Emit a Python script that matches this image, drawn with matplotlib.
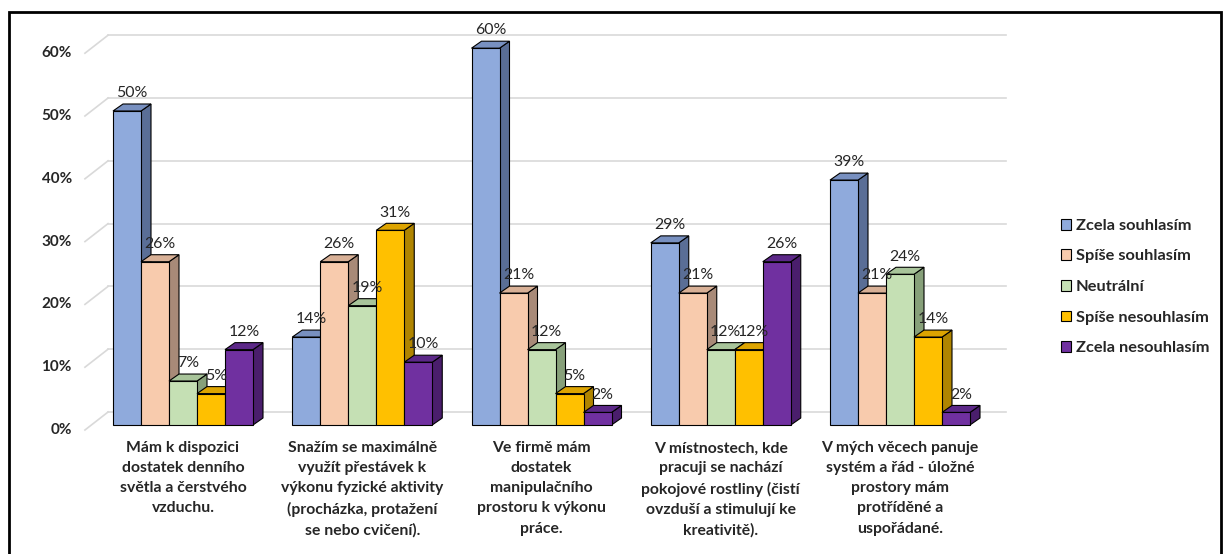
import matplotlib
matplotlib.use("Agg")
import matplotlib.pyplot as plt
from matplotlib.patches import Polygon, Patch, Rectangle

# %% data
categories = [
    "Mám k dispozici\ndostatek denního\nsvětla a čerstvého\nvzduchu.",
    "Snažím se maximálně\nvyužít přestávek k\nvýkonu fyzické aktivity\n(procházka, protažení\nse nebo cvičení).",
    "Ve firmě mám\ndostatek\nmanipulačního\nprostoru k výkonu\npráce.",
    "V místnostech, kde\npracuji se nachází\npokojové rostliny (čistí\novzduší a stimulují ke\nkreativitě).",
    "V mých věcech panuje\nsystém a řád - úložné\nprostory mám\nprotříděné a\nuspořádané.",
]
series = ["Zcela souhlasím", "Spíše souhlasím", "Neutrální",
          "Spíše nesouhlasím", "Zcela nesouhlasím"]
zcela_souhlasim = [50, 14, 60, 29, 39]
spise_souhlasim = [26, 26, 21, 21, 21]
neutralni = [7, 19, 12, 12, 24]
spise_nesouhlasim = [5, 31, 5, 12, 14]
zcela_nesouhlasim = [12, 10, 2, 26, 2]
values = [zcela_souhlasim, spise_souhlasim, neutralni,
          spise_nesouhlasim, zcela_nesouhlasim]
yticks = [0, 10, 20, 30, 40, 50, 60]

# front / side / top colours
front = ["#8FAADC", "#F8CBAD", "#C5E0B4", "#FFC000", "#7030A0"]
side = ["#5A6E96", "#A88A78", "#87A07A", "#B08500", "#4A1E6C"]
top = ["#7890C0", "#D8B096", "#A8C49A", "#DDA400", "#5C2888"]

plt.rcParams['font.family'] = ['Lato', 'DejaVu Sans']

fig = plt.figure(figsize=(12.27, 5.54), dpi=100)
ax = fig.add_axes([0, 0, 1, 1])
# pixel mapping: group spacing 179.25 px, 6.28 px per percent, base at y=425 px
gx = 179.25
py = 6.28
ax.set_xlim(-183 / gx, (1227 - 183) / gx)
ax.set_ylim((425 - 554) / py, 425 / py)
ax.axis('off')

bw = 28 / gx          # bar width
ddx = 10 / gx         # depth offset x
ddy = 7 / py          # depth offset y
back_dy = 13 / py
front_dy = -5 / py

# gridlines (back wall + left wall diagonal)
for t in yticks:
    ax.plot([-0.418, 4.591], [t + back_dy, t + back_dy], color="#D9D9D9", lw=1.2, zorder=1)
    ax.plot([-0.547, -0.418], [t + front_dy, t + back_dy], color="#D9D9D9", lw=1.2, zorder=1)
    ax.text(-0.62, t + front_dy, f"{t}%", ha='right', va='center',
            fontsize=11, fontweight='bold', color="#262626")

# bars
z = 2
for i in range(len(categories)):
    for j in range(len(series)):
        v = values[j][i]
        x0 = i - 2.5 * bw + j * bw
        x1 = x0 + bw
        ax.add_patch(Polygon([[x1, 0], [x1 + ddx, ddy], [x1 + ddx, v + ddy], [x1, v]],
                             closed=True, fc=side[j], ec="black", lw=0.8, zorder=z))
        ax.add_patch(Polygon([[x0, v], [x1, v], [x1 + ddx, v + ddy], [x0 + ddx, v + ddy]],
                             closed=True, fc=top[j], ec="black", lw=0.8, zorder=z))
        ax.add_patch(Rectangle((x0, 0), bw, v, fc=front[j], ec="black", lw=0.8, zorder=z))
        z += 1
        ax.text(x0 + bw / 2 + ddx / 2, v + ddy + 0.6, f"{v}%", ha='center', va='bottom',
                fontsize=11.4, color="#262626", zorder=100)

# category labels
for i, c in enumerate(categories):
    ax.text(i, -2.6, c, ha='center', va='top', fontsize=11.3, fontweight='bold',
            color="#262626", linespacing=1.55)

handles = [Patch(fc=front[j], ec="black", lw=0.8) for j in range(len(series))]
leg = ax.legend(handles, series, loc='center left', bbox_to_anchor=(1046 / 1227, 1 - 287 / 554),
                bbox_transform=fig.transFigure, frameon=False, handlelength=0.65, handleheight=0.65,
                handletextpad=0.25, labelspacing=1.0, prop={'size': 11.8, 'weight': 'bold'})
for t in leg.get_texts():
    t.set_color("#262626")

# chart border
fig.patches.append(Rectangle((9 / 1227, -0.05), (1221 - 9) / 1227, 1.05 - 12 / 554,
                             transform=fig.transFigure, fill=False, ec="black", lw=2))

fig.savefig("out.png", dpi=100, facecolor="white")
